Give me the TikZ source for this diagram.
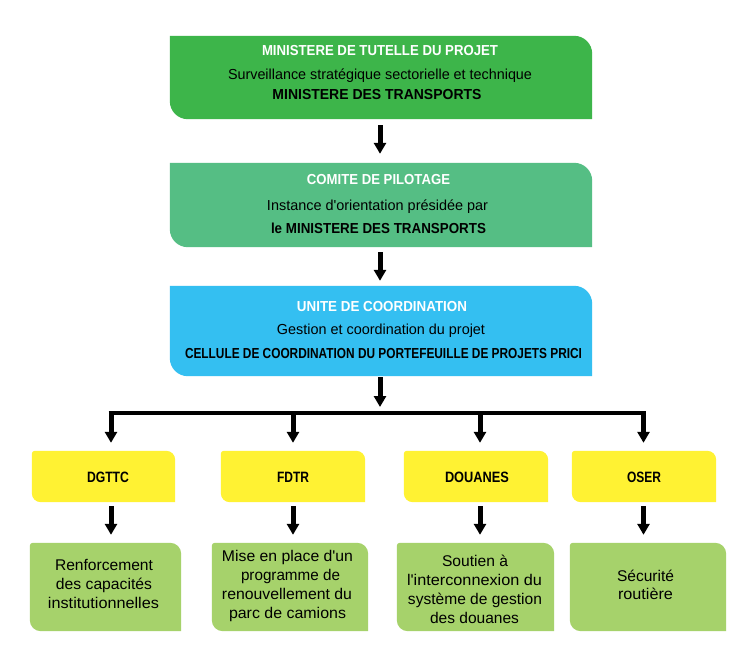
\documentclass[tikz,border=0pt]{standalone}
\usepackage{fontspec}
\setmainfont{Liberation Sans}[Ligatures=TeXOff]
\usetikzlibrary{arrows.meta}
\definecolor{cA}{RGB}{61,181,74}
\definecolor{cB}{RGB}{85,190,132}
\definecolor{cC}{RGB}{52,191,241}
\definecolor{cY}{RGB}{255,242,51}
\definecolor{cG}{RGB}{166,210,107}
\newcommand\fitw[2]{\resizebox{#1}{\height}{#2}}
\newcommand\bgbox[6]{%
  \fill[#2] ([yshift=-#3]#1.north west) arc[start angle=180,end angle=90,radius=#3]
    -- ([xshift=-#4]#1.north east) arc[start angle=90,end angle=0,radius=#4]
    -- ([yshift=#5]#1.south east) arc[start angle=0,end angle=-90,radius=#5]
    -- ([xshift=#6]#1.south west) arc[start angle=270,end angle=180,radius=#6]
    -- cycle;}
\begin{document}
\begin{tikzpicture}[x=1pt,y=1pt,
  boxnode/.style={rectangle,inner sep=0pt,draw=none},
  ttl/.style={anchor=base,inner sep=0pt,font=\bfseries\fontsize{14.5}{17}\selectfont,text=white},
  sub/.style={anchor=base,inner sep=0pt,font=\fontsize{14.5}{17}\selectfont,text=black},
  keyl/.style={anchor=base,inner sep=0pt,font=\bfseries\fontsize{14.5}{17}\selectfont,text=black},
  ylab/.style={anchor=base,inner sep=0pt,font=\bfseries\fontsize{15}{18}\selectfont,text=black},
  glab/.style={anchor=base,inner sep=0pt,font=\fontsize{15.5}{18}\selectfont,text=black},
  arr/.style={line width=5pt,-{Triangle[width=12pt,length=11pt]}},
  barline/.style={line width=4pt}]
\fill[white] (0,0) rectangle (752,654);
\useasboundingbox (0,0) rectangle (752,654);

% box nodes
\node[boxnode,minimum width=422pt,minimum height=83pt] (b1) at (381,576.5) {};
\node[boxnode,minimum width=422pt,minimum height=84pt] (b2) at (381,449) {};
\node[boxnode,minimum width=422pt,minimum height=90pt] (b3) at (381,323) {};
\node[boxnode,minimum width=143pt,minimum height=51pt] (y1) at (103.5,177.5) {};
\node[boxnode,minimum width=144pt,minimum height=51pt] (y2) at (293,177.5) {};
\node[boxnode,minimum width=144pt,minimum height=51pt] (y3) at (476,177.5) {};
\node[boxnode,minimum width=144pt,minimum height=51pt] (y4) at (644,177.5) {};
\node[boxnode,minimum width=151pt,minimum height=88pt] (g1) at (105.5,67) {};
\node[boxnode,minimum width=156pt,minimum height=88pt] (g2) at (290,67) {};
\node[boxnode,minimum width=157pt,minimum height=88pt] (g3) at (475.5,67) {};
\node[boxnode,minimum width=156pt,minimum height=88pt] (g4) at (648,67) {};

% backgrounds
\bgbox{b1}{cA}{0.01pt}{18pt}{0.01pt}{18pt}
\bgbox{b2}{cB}{0.01pt}{18pt}{0.01pt}{18pt}
\bgbox{b3}{cC}{0.01pt}{18pt}{0.01pt}{18pt}
\bgbox{y1}{cY}{3pt}{9pt}{0.01pt}{9pt}
\bgbox{y2}{cY}{3pt}{9pt}{0.01pt}{9pt}
\bgbox{y3}{cY}{3pt}{9pt}{0.01pt}{9pt}
\bgbox{y4}{cY}{3pt}{9pt}{0.01pt}{9pt}
\bgbox{g1}{cG}{3pt}{11pt}{0.01pt}{11pt}
\bgbox{g2}{cG}{3pt}{11pt}{0.01pt}{11pt}
\bgbox{g3}{cG}{3pt}{11pt}{0.01pt}{11pt}
\bgbox{g4}{cG}{3pt}{11pt}{0.01pt}{11pt}

% texts box 1
\node[ttl]  (t1a) at (380,598) {\fitw{236pt}{MINISTERE DE TUTELLE DU PROJET}};
\node[sub]  (t1b) at (380,574) {\fitw{304pt}{Surveillance stratégique sectorielle et technique}};
\node[keyl] (t1c) at (377,554) {\fitw{209pt}{MINISTERE DES TRANSPORTS}};
% box 2
\node[ttl]  (t2a) at (378.5,469) {\fitw{143pt}{COMITE DE PILOTAGE}};
\node[sub]  (t2b) at (377.5,443) {\fitw{221pt}{Instance d'orientation présidée par}};
\node[keyl] (t2c) at (378.5,420) {\fitw{215pt}{le MINISTERE DES TRANSPORTS}};
% box 3
\node[ttl]  (t3a) at (382,342) {\fitw{170pt}{UNITE DE COORDINATION}};
\node[sub]  (t3b) at (381,319) {\fitw{208pt}{Gestion et coordination du projet}};
\node[keyl] (t3c) at (383.5,295) {\fitw{397pt}{CELLULE DE COORDINATION DU PORTEFEUILLE DE PROJETS PRICI}};
% yellow labels
\node[ylab] (l1) at (108,172) {\fitw{42pt}{DGTTC}};
\node[ylab] (l2) at (293,172) {\fitw{32pt}{FDTR}};
\node[ylab] (l3) at (477,172) {\fitw{64pt}{DOUANES}};
\node[ylab] (l4) at (644,172) {\fitw{34pt}{OSER}};
% green texts
\node[glab] (g1a) at (104,84) {\fitw{98pt}{Renforcement}};
\node[glab] (g1b) at (104,65) {\fitw{96pt}{des capacités}};
\node[glab] (g1c) at (103.5,46) {\fitw{111pt}{institutionnelles}};
\node[glab] (g2a) at (287.5,93) {\fitw{131pt}{Mise en place d'un}};
\node[glab] (g2b) at (290.5,74) {\fitw{99pt}{programme de}};
\node[glab] (g2c) at (287,55) {\fitw{130pt}{renouvellement du}};
\node[glab] (g2d) at (287.5,36) {\fitw{117pt}{parc de camions}};
\node[glab] (g3a) at (475,88) {\fitw{66pt}{Soutien à}};
\node[glab] (g3b) at (474.5,69) {\fitw{135pt}{l'interconnexion du}};
\node[glab] (g3c) at (475,50) {\fitw{134pt}{système de gestion}};
\node[glab] (g3d) at (474.5,31) {\fitw{89pt}{des douanes}};
\node[glab] (g4a) at (645.5,73) {\fitw{57pt}{Sécurité}};
\node[glab] (g4b) at (645.5,55) {\fitw{55pt}{routière}};

% connectors
\coordinate (jc) at (380,241);
\coordinate (j1) at (111,241);
\coordinate (j2) at (293,241);
\coordinate (j3) at (480,241);
\coordinate (j4) at (643.5,241);
\draw[arr] ([xshift=-1pt,yshift=-6pt]b1.south) -- ([xshift=-1pt,yshift=9pt]b2.north);
\draw[arr] ([xshift=-1pt,yshift=-5pt]b2.south) -- ([xshift=-1pt,yshift=5pt]b3.north);
\draw[arr] ([yshift=-1pt]b3.south -| jc) -- ([yshift=6pt]jc);
\draw[barline] ([xshift=-2.5pt]j1) -- ([xshift=2.5pt]j4);
\draw[arr] ([yshift=2pt]j1) -- ([yshift=8pt]y1.north -| j1);
\draw[arr] ([yshift=2pt]j2) -- ([yshift=8pt]y2.north -| j2);
\draw[arr] ([yshift=2pt]j3) -- ([yshift=8pt]y3.north -| j3);
\draw[arr] ([yshift=2pt]j4) -- ([yshift=8pt]y4.north -| j4);
\draw[arr] ([yshift=-4pt]y1.south -| j1) -- ([yshift=8pt]g1.north -| j1);
\draw[arr] ([yshift=-4pt]y2.south -| j2) -- ([yshift=8pt]g2.north -| j2);
\draw[arr] ([yshift=-4pt]y3.south -| j3) -- ([yshift=8pt]g3.north -| j3);
\draw[arr] ([yshift=-4pt]y4.south -| j4) -- ([yshift=8pt]g4.north -| j4);
\end{tikzpicture}
\end{document}
